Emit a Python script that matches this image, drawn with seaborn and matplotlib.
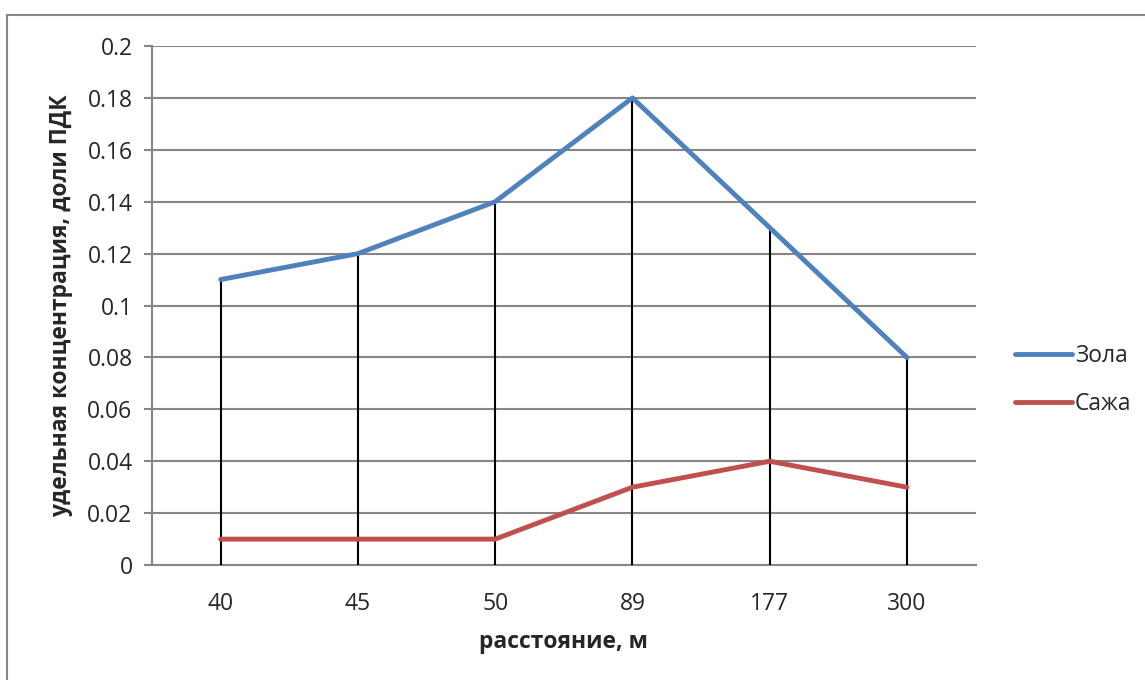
import matplotlib
matplotlib.use("Agg")
import matplotlib.pyplot as plt
import seaborn as sns
import pandas as pd
import numpy as np
from matplotlib.patches import Rectangle

# distances (categorical x axis)
distances = ["40", "45", "50", "89", "177", "300"]
# specific concentration, fractions of MPC
zola = [0.11, 0.12, 0.14, 0.18, 0.13, 0.08]
sazha = [0.01, 0.01, 0.01, 0.03, 0.04, 0.03]
series_names = ["Зола", "Сажа"]
y_ticks = [0, 0.02, 0.04, 0.06, 0.08, 0.1, 0.12, 0.14, 0.16, 0.18, 0.2]
y_tick_labels = ["0", "0.02", "0.04", "0.06", "0.08", "0.1", "0.12", "0.14", "0.16", "0.18", "0.2"]

df = pd.DataFrame({
    "расстояние": distances * 2,
    "value": zola + sazha,
    "series": [series_names[0]] * len(distances) + [series_names[1]] * len(distances),
})

sns.set_style("white")
plt.rcParams["font.family"] = ["Open Sans", "DejaVu Sans"]

fs = 16.5
fig = plt.figure(figsize=(11.45, 6.8), dpi=100)
ax = fig.add_axes([0.1328, 0.169, 0.852 - 0.1328, 0.9324 - 0.169])

grid_col = "#868686"
for t in y_ticks[1:]:
    ax.axhline(t, color=grid_col, lw=1.5, zorder=0)

# drop lines from the highest series down to the axis
tops = np.maximum(zola, sazha)
ax.vlines(distances, 0, tops, color="black", lw=1.5, zorder=1)

sns.lineplot(data=df, x="расстояние", y="value", hue="series",
             palette=["#4F81BD", "#C0504D"], linewidth=3.5, ax=ax,
             sort=False, zorder=3, solid_capstyle="round")

ax.set_xlim(-0.5, len(distances) - 0.5)
ax.set_ylim(0, 0.2)
ax.set_yticks(y_ticks)
ax.set_yticklabels(y_tick_labels)

for s in ["top", "right"]:
    ax.spines[s].set_visible(False)
ax.spines["left"].set_color(grid_col)
ax.spines["left"].set_linewidth(1.5)
ax.spines["bottom"].set_color(grid_col)
ax.spines["bottom"].set_linewidth(1.5)
ax.spines["bottom"].set_zorder(0)

ax.tick_params(axis="y", which="both", left=True, length=6, width=1.5,
               color=grid_col, labelsize=fs, pad=8)
ax.tick_params(axis="x", bottom=False, labelsize=fs, pad=16)

ax.set_xlabel("расстояние, м", fontsize=fs, fontweight="bold", labelpad=10)
ax.set_ylabel("удельная концентрация, доли ПДК", fontsize=fs, fontweight="bold", labelpad=10)

leg = ax.legend(loc="center left", bbox_to_anchor=(1.048, 0.356), frameon=False,
                fontsize=fs, handlelength=2.5, handletextpad=0.12, labelspacing=1.05,
                borderpad=0, borderaxespad=0)
for line in leg.get_lines():
    line.set_linewidth(3.5)
    line.set_solid_capstyle("round")

# chart-area border
fig.patches.append(Rectangle((7 / 1145, -0.01), 1.2, (680 - 15) / 680 + 0.01,
                             transform=fig.transFigure, fill=False,
                             edgecolor="#868686", lw=1.5, zorder=10))

fig.savefig("out.png", dpi=100)
